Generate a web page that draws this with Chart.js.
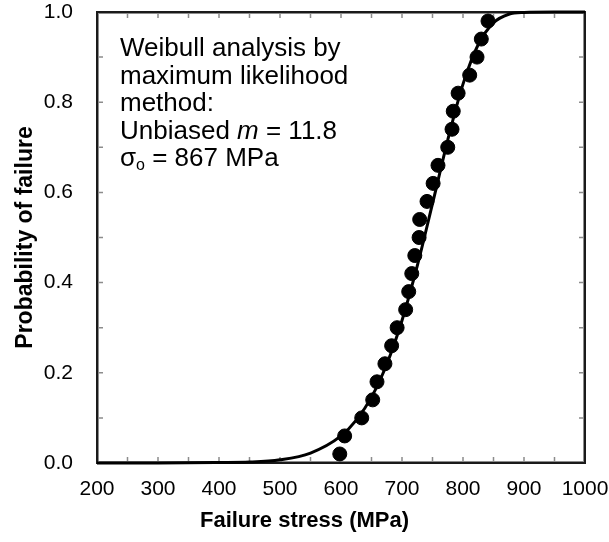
<!DOCTYPE html>
<html>
<head>
<meta charset="utf-8">
<script src="https://cdn.jsdelivr.net/npm/chart.js@4"></script>
<style>
  html, body { margin: 0; padding: 0; background: #fff; }
  #wrap { width: 609px; height: 542px; }
</style>
</head>
<body>
<div id="wrap"><canvas id="weibullChart" width="609" height="542"></canvas></div>
<script>
// measured failure stresses (MPa) and their ranked probabilities
const stressValues = [598, 606, 634, 652, 659, 672, 683, 692, 706, 711, 716, 721, 728,
                      729, 741, 751, 759, 775, 782, 784, 792, 811, 823, 830, 841];
const failureProb = [0.02, 0.06, 0.10, 0.14, 0.18, 0.22, 0.26, 0.30, 0.34, 0.38, 0.42, 0.46, 0.50,
                     0.54, 0.58, 0.62, 0.66, 0.70, 0.74, 0.78, 0.82, 0.86, 0.90, 0.94, 0.98];

// fitted curve
const fitStress = [200, 300, 400, 450, 500, 550, 600, 625, 650, 675, 700, 725, 750, 775, 800, 825, 850, 875, 900, 950, 1000];
const fitProb   = [0, 0, 0.001, 0.002, 0.007, 0.022, 0.060, 0.095, 0.146, 0.219, 0.316, 0.437, 0.575,
                   0.716, 0.840, 0.928, 0.976, 0.995, 0.999, 1.0, 1.0];

const xTicks = [200, 300, 400, 500, 600, 700, 800, 900, 1000];
const yTicks = [0, 0.2, 0.4, 0.6, 0.8, 1.0];

const xTitle = 'Failure stress (MPa)';
const noteLines = ['Weibull analysis by', 'maximum likelihood', 'method:'];

const FONT = '"Liberation Sans", Arial, sans-serif';

const frame = {
    id: 'frame',
    beforeDatasetsDraw(chart) {
        const {ctx, chartArea: a, scales} = chart;
        ctx.save();
        ctx.strokeStyle = '#8c8c8c';
        ctx.lineWidth = 1.5;
        ctx.beginPath();
        for (let v = 200; v <= 1000; v += 50) {
            const px = scales.x.getPixelForValue(v);
            ctx.moveTo(px, a.bottom); ctx.lineTo(px, a.bottom - 6);
            ctx.moveTo(px, a.top); ctx.lineTo(px, a.top + 6);
        }
        for (let i = 0; i <= 10; i++) {
            const py = scales.y.getPixelForValue(i / 10);
            ctx.moveTo(a.left, py); ctx.lineTo(a.left + 6, py);
            ctx.moveTo(a.right, py); ctx.lineTo(a.right - 6, py);
        }
        ctx.stroke();
        ctx.strokeStyle = '#8c8c8c';
        ctx.lineWidth = 1;
        ctx.strokeRect(a.left + 1.5, a.top + 1.5, a.width - 3, a.height - 3);
        ctx.strokeStyle = '#1a1a1a';
        ctx.lineWidth = 2;
        ctx.strokeRect(a.left, a.top, a.width, a.height);
        ctx.restore();
    },
    afterDraw(chart) {
        const {ctx} = chart;
        ctx.save();
        ctx.fillStyle = '#000';
        // x axis title, centred on the whole picture like the original
        ctx.font = 'bold 22px ' + FONT;
        ctx.textAlign = 'center';
        ctx.textBaseline = 'middle';
        ctx.fillText(xTitle, chart.width / 2, 521);

        ctx.textAlign = 'left';
        ctx.textBaseline = 'alphabetic';
        ctx.font = '26px ' + FONT;
        const x0 = 120, y0 = 56, step = 27.5;
        noteLines.forEach((t, i) => ctx.fillText(t, x0, y0 + i * step));
        // Unbiased m = 11.8
        let y = y0 + 3 * step, x = x0;
        ctx.fillText('Unbiased ', x, y); x += ctx.measureText('Unbiased ').width;
        ctx.font = 'italic 26px ' + FONT;
        ctx.fillText('m', x, y); x += ctx.measureText('m').width;
        ctx.font = '26px ' + FONT;
        ctx.fillText(' = 11.8', x, y);
        // sigma_o = 867 MPa
        y = y0 + 4 * step; x = x0;
        ctx.fillText('\u03c3', x, y); x += ctx.measureText('\u03c3').width;
        ctx.font = '16px ' + FONT;
        ctx.fillText('o', x, y + 4); x += ctx.measureText('o').width;
        ctx.font = '26px ' + FONT;
        ctx.fillText(' = 867 MPa', x, y);
        ctx.restore();
    }
};

new Chart(document.getElementById('weibullChart'), {
    type: 'scatter',
    data: {
        datasets: [{
            label: 'Fit',
            data: fitStress.map((s, i) => ({x: s, y: fitProb[i]})),
            showLine: true,
            borderColor: '#000',
            borderWidth: 3,
            pointRadius: 0,
            cubicInterpolationMode: 'monotone',
            clip: false,
            order: 2
        }, {
            label: 'Data',
            data: stressValues.map((s, i) => ({x: s, y: failureProb[i]})),
            backgroundColor: '#000',
            borderColor: '#000',
            pointRadius: 7,
            clip: false,
            order: 1
        }]
    },
    options: {
        responsive: false,
        animation: false,
        layout: { padding: { left: 0, top: 12, right: 24, bottom: 0 } },
        plugins: { legend: { display: false }, tooltip: { enabled: false } },
        scales: {
            x: {
                type: 'linear',
                min: 200, max: 1000,
                afterBuildTicks: s => { s.ticks = xTicks.map(v => ({value: v})); },
                afterFit: s => { s.height = 79; s.paddingLeft = 0; s.paddingRight = 0; },
                grid: { display: false },
                border: { display: false },
                ticks: { color: '#000', font: { family: FONT, size: 21 }, padding: 6, maxRotation: 0,
                         callback: v => String(v) },
                title: { display: false }
            },
            y: {
                min: 0, max: 1,
                afterBuildTicks: s => { s.ticks = yTicks.map(v => ({value: v})); },
                afterFit: s => { s.width = 97; s.paddingTop = 0; s.paddingBottom = 0; },
                grid: { display: false },
                border: { display: false },
                ticks: { color: '#000', font: { family: FONT, size: 21 }, padding: 16,
                         callback: v => v.toFixed(1) },
                title: { display: true, text: 'Probability of failure', color: '#000',
                         font: { family: FONT, size: 23, weight: 'bold' }, padding: { top: 12, bottom: 0 } }
            }
        }
    },
    plugins: [frame]
});
</script>
</body>
</html>
